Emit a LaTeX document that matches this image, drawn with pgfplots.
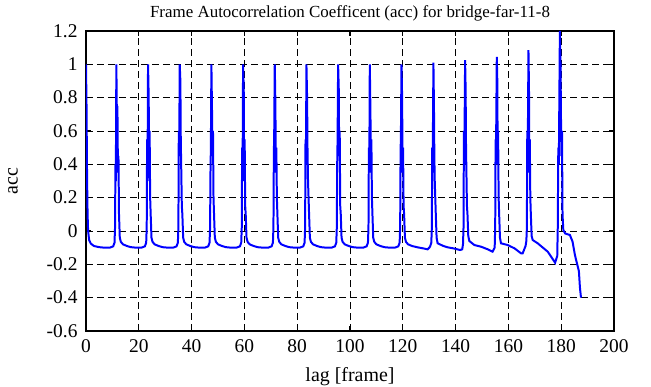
\documentclass[border=0pt]{standalone}
\usepackage{fontspec}
\setmainfont{Liberation Serif}
\usepackage{pgfplots}
\pgfplotsset{compat=1.18}
\begin{document}
\begin{tikzpicture}
\begin{axis}[
  at={(0,0)}, anchor=south west,
  scale only axis, width=528bp, height=300bp,
  xmin=0, xmax=200, ymin=-0.6, ymax=1.2,
  xtick={0,20,...,200},
  ytick={-0.6,-0.4,-0.2,0,0.2,0.4,0.6,0.8,1,1.2},
  /pgf/number format/assume math mode=true,
  tick label style={font=\fontsize{19.5}{22}\selectfont},
  yticklabel style={/pgf/number format/fixed, xshift=-5bp},
  xticklabel style={yshift=-5bp},
  label style={font=\fontsize{20}{23}\selectfont},
  xlabel style={at={(axis description cs:0.5,-0.1667)}, anchor=base},
  ylabel style={at={(axis description cs:-0.138,0.5)}, anchor=center},
  title style={font=\fontsize{17}{20}\selectfont},
  title={Frame Autocorrelation Coefficent (acc) for bridge-far-11-8},
  xlabel={lag [frame]}, ylabel={acc},
  grid=major,
  major grid style={black, line width=0.8pt, dash pattern=on 7bp off 4bp},
  tick align=inside, major tick length=5bp,
  tick style={black, line width=1.2pt},
  axis line style={black, line width=1.8pt},
  xtick pos=both, ytick pos=both,
]
\addplot[blue, line width=2pt] coordinates {
(0,1.0) (0.2,0.75) (0.4,0.33) (0.6,0.1) (0.8,0.0) (1.2,-0.055) (1.8,-0.075) (3,-0.09) (5,-0.097) (7,-0.1) (9,-0.1) (10.3,-0.092) (10.8,-0.07)
(11.0,0.02) (11.15,0.4) (11.3,0.3) (11.5,1.0) (11.75,0.6) (11.9,0.75) (12.1,0.35) (12.3,0.45) (12.5,0.1) (12.8,-0.04) (13.2,-0.065)
(14,-0.08) (15.5,-0.09) (17,-0.097) (19,-0.1) (21,-0.1) (22.3,-0.092) (22.8,-0.07)
(23.0,0.02) (23.15,0.55) (23.3,0.3) (23.5,1.0) (23.75,0.8) (23.9,0.4) (24.1,0.6) (24.3,0.2) (24.5,0.1) (24.8,-0.04) (25.2,-0.065)
(26,-0.08) (27.5,-0.09) (29,-0.097) (31,-0.1) (33,-0.1) (34.3,-0.092) (34.8,-0.07)
(35.0,0.02) (35.15,0.6) (35.3,0.45) (35.5,1.0) (35.75,0.9) (35.9,0.55) (36.1,0.35) (36.3,0.15) (36.5,0.1) (36.8,-0.04) (37.2,-0.065)
(38,-0.08) (39.5,-0.09) (41,-0.097) (43,-0.1) (45,-0.1) (46.3,-0.092) (46.8,-0.07)
(47.0,0.02) (47.15,0.35) (47.3,0.5) (47.5,1.0) (47.75,0.7) (47.9,0.45) (48.1,0.6) (48.3,0.2) (48.5,0.1) (48.8,-0.04) (49.2,-0.065)
(50,-0.08) (51.5,-0.09) (53,-0.097) (55,-0.1) (57,-0.1) (58.3,-0.092) (58.8,-0.07)
(59.0,0.02) (59.15,0.5) (59.3,0.3) (59.5,1.0) (59.75,0.85) (59.9,0.4) (60.1,0.55) (60.3,0.15) (60.5,0.1) (60.8,-0.04) (61.2,-0.065)
(62,-0.08) (63.5,-0.09) (65,-0.097) (67,-0.1) (69,-0.1) (70.3,-0.092) (70.8,-0.07)
(71.0,0.02) (71.15,0.45) (71.3,0.6) (71.5,1.0) (71.75,0.75) (71.9,0.35) (72.1,0.5) (72.3,0.2) (72.5,0.1) (72.8,-0.04) (73.2,-0.065)
(74,-0.08) (75.5,-0.09) (77,-0.097) (79,-0.1) (81,-0.1) (82.3,-0.092) (82.8,-0.07)
(83.0,0.02) (83.15,0.55) (83.3,0.4) (83.5,1.0) (83.75,0.8) (83.9,0.5) (84.1,0.3) (84.3,0.2) (84.5,0.1) (84.8,-0.04) (85.2,-0.065)
(86,-0.08) (87.5,-0.09) (89,-0.097) (91,-0.1) (93,-0.1) (94.3,-0.092) (94.8,-0.07)
(95.0,0.02) (95.15,0.4) (95.3,0.55) (95.5,1.0) (95.75,0.85) (95.9,0.45) (96.1,0.6) (96.3,0.15) (96.5,0.1) (96.8,-0.04) (97.2,-0.065)
(98,-0.08) (99.5,-0.09) (101,-0.097) (103,-0.1) (105,-0.1) (106.3,-0.092) (106.8,-0.07)
(107.0,0.02) (107.15,0.5) (107.3,0.35) (107.5,1.0) (107.75,0.7) (107.9,0.4) (108.1,0.55) (108.3,0.2) (108.5,0.1) (108.8,-0.04) (109.2,-0.065)
(110,-0.08) (111.5,-0.09) (113,-0.097) (115,-0.1) (117,-0.1) (118.3,-0.092) (118.8,-0.07)
(119.0,0.02) (119.15,0.45) (119.3,0.6) (119.5,1.0) (119.75,0.8) (119.9,0.35) (120.1,0.5) (120.3,0.15) (120.5,0.1) (120.8,-0.04) (121.2,-0.065)
(122,-0.08) (123.5,-0.09) (125.6,-0.098) (128,-0.105) (129.4,-0.11) (130.3,-0.095) (130.8,-0.07)
(131.0,0.02) (131.15,0.5) (131.3,0.35) (131.6,1.01) (131.8,0.75) (131.95,0.45) (132.1,0.3) (132.3,0.2) (132.5,0.1) (132.8,-0.04) (133.2,-0.074)
(135.4,-0.09) (137,-0.098) (139.1,-0.104) (141.7,-0.114) (142.5,-0.11) (142.8,-0.08)
(143.0,0.02) (143.15,0.6) (143.3,0.4) (143.6,1.025) (143.8,0.85) (143.95,0.5) (144.1,0.35) (144.3,0.15) (144.5,0.1) (144.8,-0.03) (145.2,-0.06)
(147.1,-0.084) (149.6,-0.094) (152.2,-0.11) (154,-0.124) (154.8,-0.1)
(155.0,0.02) (155.15,0.55) (155.3,0.45) (155.6,1.045) (155.8,0.9) (155.95,0.4) (156.1,0.6) (156.3,0.2) (156.5,0.1) (156.8,-0.04) (157.2,-0.074)
(159.7,-0.084) (162.3,-0.104) (164.8,-0.134) (165.4,-0.134) (166.5,-0.09) (166.8,-0.06)
(167.0,0.02) (167.15,0.6) (167.3,0.4) (167.6,1.085) (167.8,0.85) (167.95,0.35) (168.1,0.55) (168.3,0.2) (168.5,0.1) (168.8,-0.03) (169.2,-0.054)
(171.1,-0.074) (174.9,-0.124) (177.7,-0.19) (178.5,-0.15)
(178.7,0.02) (178.9,0.5) (179.1,0.4) (179.5,1.2) (179.75,1.0) (179.9,0.7) (180.1,0.45) (180.3,0.6) (180.5,0.1) (180.8,0.006) (181.5,-0.015) (183.3,-0.024)
(184.3,-0.064) (185.2,-0.144) (185.9,-0.19) (186.7,-0.24) (187.1,-0.34) (187.5,-0.4)
};
\end{axis}
\pgfresetboundingbox
\path[use as bounding box] (-86bp,-56bp) rectangle (565bp,331bp);
\end{tikzpicture}
\end{document}
